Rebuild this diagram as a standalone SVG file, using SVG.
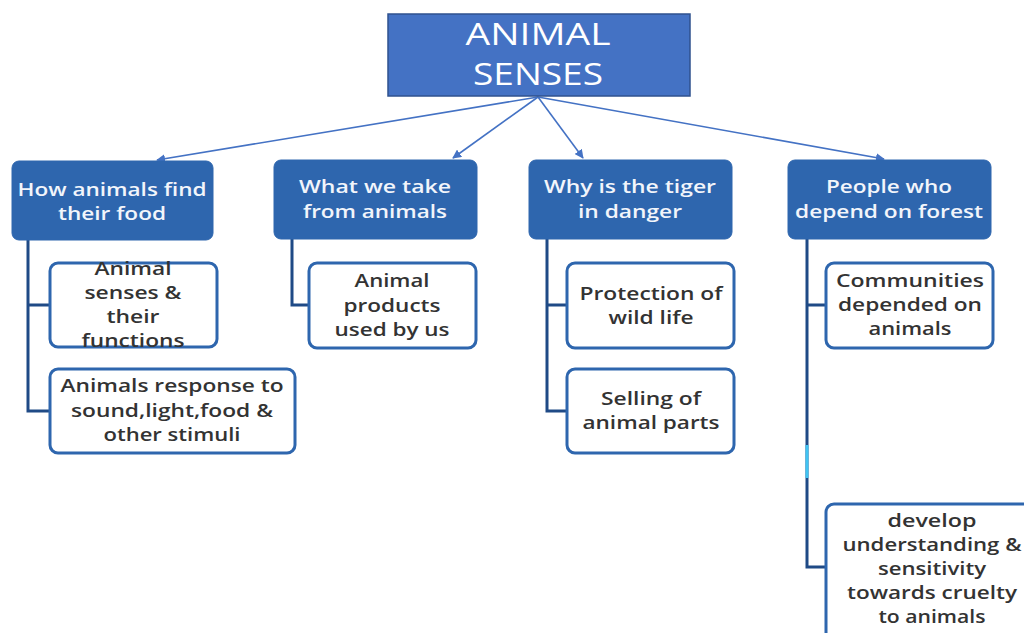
<svg xmlns="http://www.w3.org/2000/svg" width="1024" height="633" viewBox="0 0 1024 633">
<defs>
<marker id="ah" viewBox="0 0 10 10" refX="9" refY="5" markerWidth="9" markerHeight="9" markerUnits="userSpaceOnUse" orient="auto">
<path d="M0,0 L10,5 L0,10 z" fill="#4472C4"/>
</marker>
<style>
.root{fill:#4472C4;stroke:#2F528F;stroke-width:1.5}
.hdr{fill:#2E66AE;stroke:#2E66AE;stroke-width:1}
.sub{fill:#FFFFFF;stroke:#2E66AE;stroke-width:3}
.rt{font-family:"Open Sans","Liberation Sans",sans-serif;font-size:31px;fill:#FFFFFF;text-anchor:middle}
.ht{font-family:"Open Sans","Liberation Sans",sans-serif;font-size:18px;fill:#F2F5FB;text-anchor:middle;font-weight:600}
.st{font-family:"Open Sans","Liberation Sans",sans-serif;font-size:18px;fill:#333333;text-anchor:middle;font-weight:600}
.arr{stroke:#4472C4;stroke-width:1.6;fill:none}
.tree{stroke:#1F4A86;stroke-width:3;fill:none}
</style>
</defs>
<rect width="1024" height="633" fill="#FFFFFF"/>

<g id="connectors">
<line class="arr" x1="538" y1="97" x2="157" y2="160" marker-end="url(#ah)"/>
<line class="arr" x1="538" y1="97" x2="453" y2="158" marker-end="url(#ah)"/>
<line class="arr" x1="538" y1="97" x2="583" y2="158" marker-end="url(#ah)"/>
<line class="arr" x1="538" y1="97" x2="884" y2="159" marker-end="url(#ah)"/>
<path class="tree" d="M28,240 V411 H50 M28,305 H50"/>
<path class="tree" d="M292,239 V305 H309"/>
<path class="tree" d="M547,239 V411 H567 M547,305 H567"/>
<path class="tree" d="M807,239 V567 H826 M807,305 H826"/>
<line x1="807" y1="445" x2="807" y2="478" stroke="#40C4F2" stroke-width="3"/>
</g>

<g id="root">
<rect class="root" x="388" y="14" width="302" height="82"/>
<text class="rt" x="538" y="45" textLength="145" lengthAdjust="spacingAndGlyphs">ANIMAL</text>
<text class="rt" x="538" y="85" textLength="130" lengthAdjust="spacingAndGlyphs">SENSES</text>
</g>

<g id="h1">
<rect class="hdr" x="12" y="161" width="201" height="79" rx="7"/>
<text class="ht" x="112" y="196" textLength="189" lengthAdjust="spacingAndGlyphs">How animals find</text>
<text class="ht" x="112" y="220" textLength="108" lengthAdjust="spacingAndGlyphs">their food</text>
</g>
<g id="h2">
<rect class="hdr" x="274" y="160" width="203" height="79" rx="7"/>
<text class="ht" x="375" y="193" textLength="152" lengthAdjust="spacingAndGlyphs">What we take</text>
<text class="ht" x="375" y="218" textLength="144" lengthAdjust="spacingAndGlyphs">from animals</text>
</g>
<g id="h3">
<rect class="hdr" x="529" y="160" width="203" height="79" rx="7"/>
<text class="ht" x="630" y="193" textLength="172" lengthAdjust="spacingAndGlyphs">Why is the tiger</text>
<text class="ht" x="630" y="218" textLength="104" lengthAdjust="spacingAndGlyphs">in danger</text>
</g>
<g id="h4">
<rect class="hdr" x="788" y="160" width="203" height="79" rx="7"/>
<text class="ht" x="889" y="193" textLength="126" lengthAdjust="spacingAndGlyphs">People who</text>
<text class="ht" x="889" y="218" textLength="188" lengthAdjust="spacingAndGlyphs">depend on forest</text>
</g>

<g id="s1a">
<rect class="sub" x="50" y="263" width="167" height="84" rx="8"/>
<text class="st" x="133" y="275" textLength="77" lengthAdjust="spacingAndGlyphs">Animal</text>
<text class="st" x="133" y="299" textLength="97" lengthAdjust="spacingAndGlyphs">senses &amp;</text>
<text class="st" x="133" y="323" textLength="53" lengthAdjust="spacingAndGlyphs">their</text>
<text class="st" x="133" y="347" textLength="103" lengthAdjust="spacingAndGlyphs">functions</text>
</g>
<g id="s1b">
<rect class="sub" x="50" y="369" width="245" height="84" rx="8"/>
<text class="st" x="172" y="392" textLength="223" lengthAdjust="spacingAndGlyphs">Animals response to</text>
<text class="st" x="172" y="417" textLength="202" lengthAdjust="spacingAndGlyphs">sound,light,food &amp;</text>
<text class="st" x="172" y="441" textLength="137" lengthAdjust="spacingAndGlyphs">other stimuli</text>
</g>
<g id="s2">
<rect class="sub" x="309" y="263" width="167" height="85" rx="8"/>
<text class="st" x="392" y="287" textLength="75" lengthAdjust="spacingAndGlyphs">Animal</text>
<text class="st" x="392" y="312" textLength="97" lengthAdjust="spacingAndGlyphs">products</text>
<text class="st" x="392" y="336" textLength="115" lengthAdjust="spacingAndGlyphs">used by us</text>
</g>
<g id="s3a">
<rect class="sub" x="567" y="263" width="167" height="85" rx="8"/>
<text class="st" x="651" y="300" textLength="143" lengthAdjust="spacingAndGlyphs">Protection of</text>
<text class="st" x="651" y="324" textLength="85" lengthAdjust="spacingAndGlyphs">wild life</text>
</g>
<g id="s3b">
<rect class="sub" x="567" y="369" width="167" height="84" rx="8"/>
<text class="st" x="651" y="405" textLength="100" lengthAdjust="spacingAndGlyphs">Selling of</text>
<text class="st" x="651" y="429" textLength="137" lengthAdjust="spacingAndGlyphs">animal parts</text>
</g>
<g id="s4a">
<rect class="sub" x="826" y="263" width="167" height="85" rx="8"/>
<text class="st" x="910" y="287" textLength="148" lengthAdjust="spacingAndGlyphs">Communities</text>
<text class="st" x="910" y="311" textLength="144" lengthAdjust="spacingAndGlyphs">depended on</text>
<text class="st" x="910" y="335" textLength="83" lengthAdjust="spacingAndGlyphs">animals</text>
</g>
<g id="s4b">
<rect class="sub" x="826" y="504" width="215" height="140" rx="8"/>
<text class="st" x="932" y="527" textLength="89" lengthAdjust="spacingAndGlyphs">develop</text>
<text class="st" x="932" y="551" textLength="179" lengthAdjust="spacingAndGlyphs">understanding &amp;</text>
<text class="st" x="932" y="575" textLength="108" lengthAdjust="spacingAndGlyphs">sensitivity</text>
<text class="st" x="932" y="599" textLength="170" lengthAdjust="spacingAndGlyphs">towards cruelty</text>
<text class="st" x="932" y="623" textLength="107" lengthAdjust="spacingAndGlyphs">to animals</text>
</g>
</svg>
